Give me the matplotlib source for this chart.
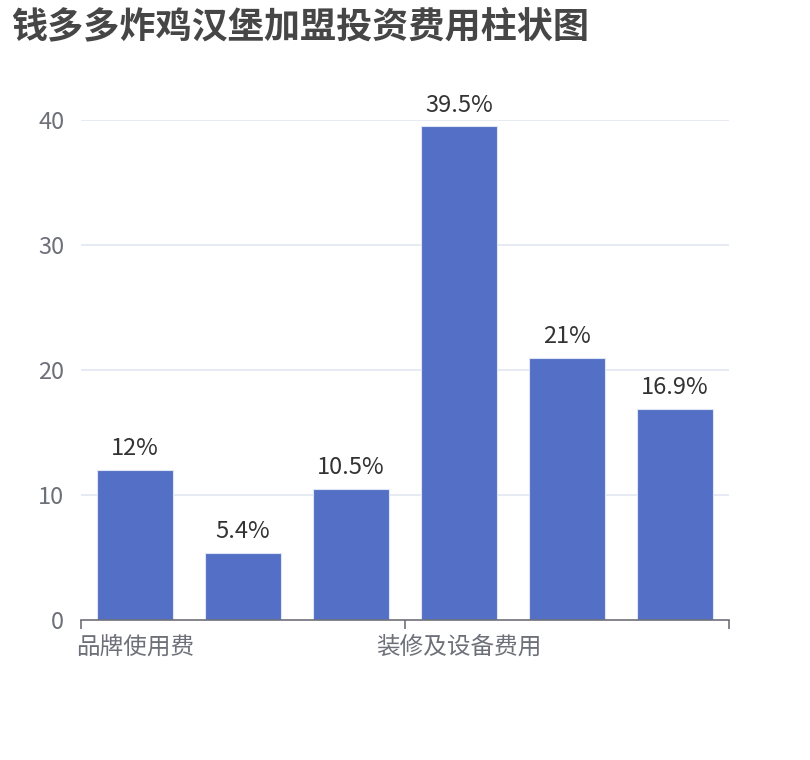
import matplotlib
matplotlib.use("Agg")
import matplotlib.pyplot as plt

plt.rcParams['font.family'] = ['Noto Sans CJK SC', 'DejaVu Sans']

title = "钱多多炸鸡汉堡加盟投资费用柱状图"
categories = ["品牌使用费", "保证金", "首批进货费", "装修及设备费用", "房租", "流动资金"]
values = [12, 5.4, 10.5, 39.5, 21, 16.9]
value_labels = ["12%", "5.4%", "10.5%", "39.5%", "21%", "16.9%"]
shown_label_idx = [0, 3]
y_ticks = [0, 10, 20, 30, 40]

W, H = 810, 760
fig = plt.figure(figsize=(W / 100, H / 100), dpi=100)
ax = fig.add_axes([81 / W, 1 - 620 / H, (729 - 81) / W, (620 - 120) / H])

x = list(range(len(categories)))
ax.bar(x, values, width=0.7, color="#5470C6", edgecolor="#dfe5f5", linewidth=0.8, zorder=3)

ax.set_xlim(-0.5, len(categories) - 0.5)
ax.set_ylim(0, 40)
ax.set_yticks(y_ticks)
ax.set_yticklabels([str(t) for t in y_ticks], color="#6E7079", fontsize=17)
ax.tick_params(axis='y', length=0, pad=12)

for t in y_ticks[1:]:
    ax.axhline(t, color="#E0E6F1", linewidth=1.2, zorder=1)

ax.set_xticks([-0.5, 2.5, 5.5])
ax.set_xticklabels([])
ax.set_xticks([i for i in shown_label_idx], minor=True)
ax.set_xticklabels([categories[i] for i in shown_label_idx], minor=True,
                   color="#6E7079", fontsize=17)
ax.tick_params(axis='x', which='major', length=6.5, width=1.2, color="#6E7079", direction='out')
ax.tick_params(axis='x', which='minor', length=0, pad=11)

for s in ['top', 'right', 'left']:
    ax.spines[s].set_visible(False)
ax.spines['bottom'].set_color("#6E7079")
ax.spines['bottom'].set_linewidth(1.2)
ax.spines['bottom'].set_zorder(4)

for i, (v, lab) in enumerate(zip(values, value_labels)):
    ax.annotate(lab, (i, v), xytext=(0, 7), textcoords='offset points',
                ha='center', va='bottom', fontsize=17, color="#333333")

fig.text(11 / W, 1 - 28 / H, title, fontsize=26, fontweight='heavy', color="#464646",
         ha='left', va='center')

fig.savefig("out.png", dpi=100, facecolor="white")
